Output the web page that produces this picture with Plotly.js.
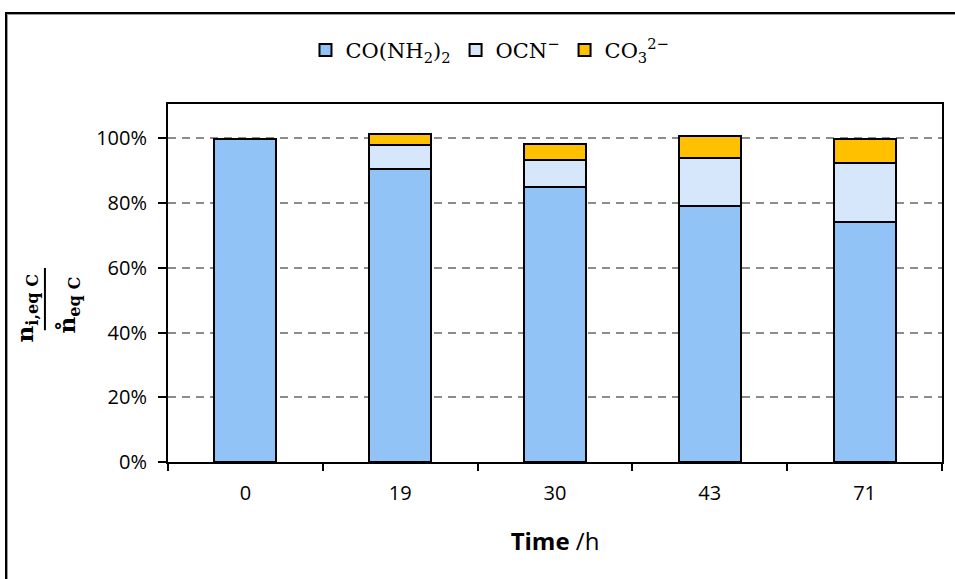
<!DOCTYPE html>
<html>
<head>
<meta charset="utf-8">
<script src="https://cdn.plot.ly/plotly-3.0.1.min.js"></script>
<style>
html,body{margin:0;padding:0;background:#fff;}
#wrap{position:relative;width:955px;height:579px;overflow:hidden;}
#chart{position:absolute;left:0;top:0;width:955px;height:579px;}
#frame{position:absolute;left:5px;top:12px;width:1000px;height:700px;border-left:2px solid #000;border-top:2px solid #000;box-shadow:inset 1px 1px 0 #9a9a9a;pointer-events:none;}
</style>
</head>
<body>
<div id="wrap"><div id="chart"></div><div id="frame"></div></div>
<script>
const times = ['0', '19', '30', '43', '71'];
const urea = [0.999, 0.906, 0.850, 0.791, 0.743];
const cyanate = [0.0, 0.074, 0.082, 0.148, 0.181];
const carbonate = [0.0, 0.034, 0.049, 0.068, 0.074];
const seriesNames = ['CO(NH<sub>2</sub>)<sub>2</sub>', 'OCN<sup>\u2212</sup>', 'CO<sub>3</sub><sup>2\u2212</sup>'];
const yTicks = [0, 0.2, 0.4, 0.6, 0.8, 1.0];
const yTickText = ['0%', '20%', '40%', '60%', '80%', '100%'];

const line = {color: '#000', width: 2};
const traces = [
  {type: 'bar', name: seriesNames[0], x: times, y: urea, marker: {color: '#91C3F7', line: line}},
  {type: 'bar', name: seriesNames[1], x: times, y: cyanate, marker: {color: '#D6E7FB', line: line}},
  {type: 'bar', name: seriesNames[2], x: times, y: carbonate, marker: {color: '#FFC000', line: line}}
];

const serif = 'DejaVu Serif, Liberation Serif, serif';
const layout = {
  width: 955, height: 579,
  margin: {l: 168, r: 13, t: 104, b: 117},
  paper_bgcolor: '#fff', plot_bgcolor: '#fff',
  barmode: 'stack', bargap: 0.6,
  showlegend: true,
  legend: {orientation: 'h', x: 0.416, xanchor: 'center', y: 1.15, yanchor: 'middle',
    font: {family: serif, size: 21, color: '#000'},
    traceorder: 'normal', itemwidth: 30},
  font: {family: 'Open Sans, Noto Sans, sans-serif', size: 20, color: '#000'},
  xaxis: {
    type: 'category', showline: true, linecolor: '#000', linewidth: 2, mirror: true,
    ticks: 'outside', tickson: 'boundaries', ticklen: 7, tickwidth: 2, tickcolor: '#000',
    showgrid: false, zeroline: false, ticklabelstandoff: 12,
    tickfont: {size: 20, color: '#000'},
    title: {text: '<b>Time</b> /h', font: {size: 24, color: '#000'}, standoff: 28}
  },
  yaxis: {
    range: [0, 1.106], tickvals: yTicks, ticktext: yTickText,
    showline: true, linecolor: '#000', linewidth: 2, mirror: true,
    ticks: 'outside', ticklen: 8, tickwidth: 2, tickcolor: '#000',
    showgrid: true, gridcolor: '#8c8c8c', griddash: '8px,6px', gridwidth: 2,
    zeroline: false, ticklabelstandoff: 7,
    tickfont: {size: 20, color: '#000'}
  },
  annotations: [
    {xref: 'paper', yref: 'paper', x: -0.183, y: 0.43, xanchor: 'center', yanchor: 'middle',
      textangle: -90, showarrow: false,
      text: '<b>n<sub>i,eq C</sub></b>', font: {family: serif, size: 23, color: '#000'}},
    {xref: 'paper', yref: 'paper', x: -0.128, y: 0.44, xanchor: 'center', yanchor: 'middle',
      textangle: -90, showarrow: false,
      text: '<b>n\u030A<sub>eq C</sub></b>', font: {family: serif, size: 23, color: '#000'}}
  ],
  shapes: [
    {type: 'line', xref: 'paper', yref: 'paper', x0: -0.159, x1: -0.159, y0: 0.368, y1: 0.542,
      line: {color: '#000', width: 2}}
  ]
};

Plotly.newPlot('chart', traces, layout, {displayModeBar: false, staticPlot: true});
</script>
</body>
</html>
